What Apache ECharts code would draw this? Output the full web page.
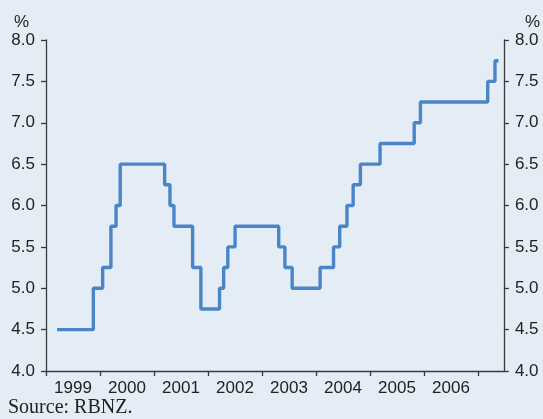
<!DOCTYPE html>
<html><head><meta charset="utf-8">
<script src="https://cdn.jsdelivr.net/npm/echarts@6/dist/echarts.min.js"></script>
<style>html,body{margin:0;padding:0;background:#e4ecf6}#c{width:543px;height:419px}</style>
</head><body><div id="c"></div>
<script>
// Official cash rate change dates and levels (%)
var dates = ['1999-03-17','1999-11-17','2000-01-19','2000-03-15','2000-04-19','2000-05-17',
  '2001-03-14','2001-04-19','2001-05-16','2001-09-19','2001-11-14',
  '2002-03-20','2002-04-17','2002-05-15','2002-07-03',
  '2003-04-24','2003-06-05','2003-07-24',
  '2004-01-29','2004-04-29','2004-06-10','2004-07-29','2004-09-09','2004-10-28',
  '2005-03-10','2005-10-27','2005-12-08',
  '2007-03-08','2007-04-26','2007-05-20'];
var rates = [4.50,5.00,5.25,5.75,6.00,6.50,
  6.25,6.00,5.75,5.25,4.75,
  5.00,5.25,5.50,5.75,
  5.50,5.25,5.00,
  5.25,5.50,5.75,6.00,6.25,6.50,
  6.75,7.00,7.25,
  7.50,7.75,7.75];
var yearTicks = [1999,2000,2001,2002,2003,2004,2005,2006,2007];
var yearLabels = ['1999','2000','2001','2002','2003','2004','2005','2006'];

// convert a date string to a fractional year for the value axis
function toYear(s){
  var d = new Date(s + 'T00:00:00Z');
  var y = d.getUTCFullYear();
  var start = Date.UTC(y,0,1), end = Date.UTC(y+1,0,1);
  return y + (d - start)/(end - start);
}
var data = dates.map(function(d,i){return [toYear(d), rates[i]];});
var axisColor = '#3a3a3a';
var txt = {color:'#222', fontSize:17, fontFamily:'Liberation Sans'};
function yAx(pos){
  return {
    type:'value', position:pos, min:4, max:8, interval:0.5,
    name:'%', nameLocation:'end', nameGap:9,
    nameTextStyle:Object.assign({}, txt, pos==='left'
      ? {align:'right', padding:[0,17,0,0]}
      : {align:'left', padding:[0,0,0,21]}),
    axisLine:{show:true, lineStyle:{color:axisColor, width:1.3}},
    axisTick:{show:true, length:5, lineStyle:{color:axisColor, width:1.3}},
    axisLabel:Object.assign({}, txt, {margin:11, formatter:function(v){return v.toFixed(1);}}),
    splitLine:{show:false}
  };
}
var chart = echarts.init(document.getElementById('c'), null, {renderer:'canvas'});
chart.setOption({
  backgroundColor:'#e4ecf6',
  animation:false,
  grid:{left:46, right:39, top:40, bottom:48, containLabel:false},
  xAxis:{
    type:'value', min:1999, max:2007.48,
    axisLine:{show:true, lineStyle:{color:axisColor, width:1.3}},
    axisTick:{show:true, length:5, lineStyle:{color:axisColor, width:1.3},
      customValues:yearTicks},
    axisLabel:Object.assign({}, txt, {margin:9,
      customValues:yearLabels.map(function(y){return +y + 0.5;}),
      formatter:function(v){return String(Math.floor(v));}}),
    splitLine:{show:false}
  },
  yAxis:[yAx('left'), yAx('right')],
  series:[{
    type:'line', step:'end', data:data, symbol:'none',
    lineStyle:{color:'#4a85c6', width:3.4}
  }],
  graphic:[{type:'text', left:8, bottom:1,
    style:{text:'Source: RBNZ.', fill:'#222', font:'20px "Liberation Serif"'}}]
});
</script></body></html>
